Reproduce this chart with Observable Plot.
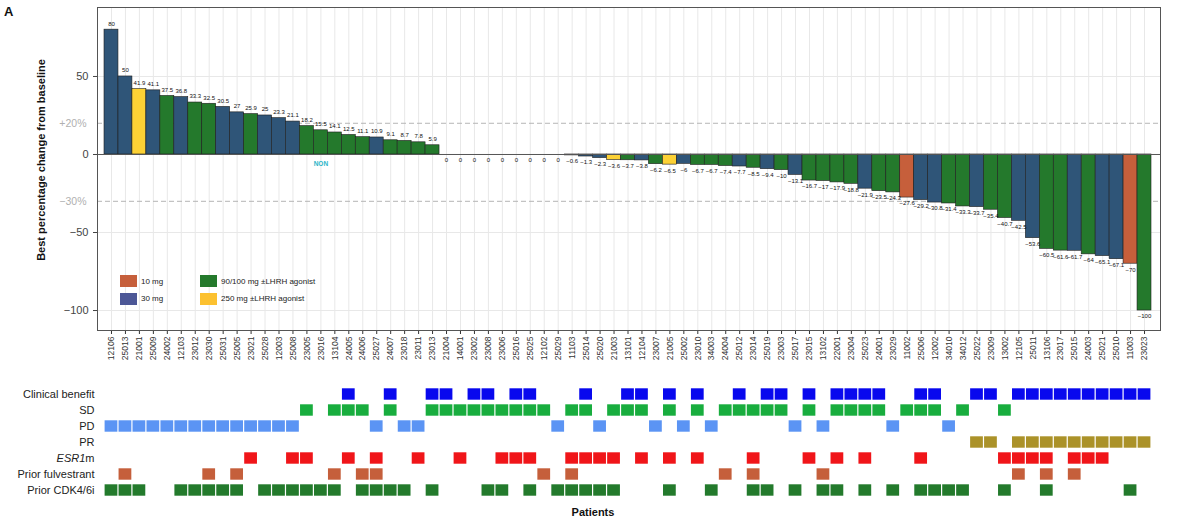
<!DOCTYPE html>
<html>
<head>
<meta charset="utf-8">
<script src="https://cdn.jsdelivr.net/npm/d3@7"></script>
<script src="https://cdn.jsdelivr.net/npm/@observablehq/plot@0.6"></script>
<style>
  body { margin: 0; background: #fff; font-family: "Liberation Sans", Arial, sans-serif; }
  #wrap { position: relative; width: 1177px; height: 523px; overflow: hidden; background: #fff; }
  #topChart, #bottomChart { position: absolute; left: 0; }
  #topChart { top: 0; }
  #bottomChart { top: 375px; }
  #panel { position: absolute; left: 4px; top: 4px; font-weight: bold; font-size: 13px; color: #111; }
  #legend { position: absolute; left: 120px; top: 275px; display: grid; grid-template-columns: 80px 160px; grid-auto-rows: 17.5px; font-size: 8px; color: #222; }
  #legend .item { display: flex; align-items: center; height: 12px; }
  #legend .sw { width: 17px; height: 12px; margin-right: 4px; flex: none; }
</style>
</head>
<body>
<div id="wrap">
  <div id="topChart"></div>
  <div id="bottomChart"></div>
  <div id="panel">A</div>
  <div id="legend"></div>
</div>
<script>
// ---------------- data ----------------
const patients = ["12106","25013","21001","25009","24002","12103","23012","23030","25031","25005",
  "23021","25028","12003","25008","23005","23016","13104","24005","24006","25027",
  "24007","23018","23011","23013","21004","14001","23002","23008","23006","25016",
  "25025","12102","25029","11103","25014","25020","21003","13101","12104","23007",
  "21005","25002","23010","34003","24004","25012","23014","25019","23003","25017",
  "23015","13102","22001","23004","25023","24001","23029","11002","25006","12002",
  "34010","34012","25022","23009","13002","12105","25011","13106","23017","25015",
  "24003","25021","25010","11003","23023"];

const bestChange = [80, 50, 41.9, 41.1, 37.5, 36.8, 33.3, 32.5, 30.5, 27,
  25.9, 25, 23.3, 21.1, 18.2, 15.5, 14.1, 12.5, 11.1, 10.9,
  9.1, 8.7, 7.8, 5.9, 0, 0, 0, 0, 0, 0,
  0, 0, 0, -0.6, -1.3, -2.3, -3.6, -3.7, -3.8, -6.2,
  -6.5, -6, -6.7, -6.7, -7.4, -7.7, -8.5, -9.4, -10, -13.1,
  -16.7, -17, -17.9, -18.8, -21.9, -23.5, -24.3, -27.6, -29.2, -30.8,
  -31.4, -33.3, -33.7, -35.4, -40.7, -42.5, -53.6, -60.5, -61.6, -61.7,
  -64, -65.1, -67.1, -70, -100];

// dose group per patient: 10 = 10 mg, 30 = 30 mg, 90 = 90/100 mg, 250 = 250 mg
const doseCode = [30,30,250,30,90,30,90,90,30,30,
  90,30,30,30,90,90,90,90,90,30,
  90,90,90,90,250,90,90,90,90,30,
  30,30,30,10,30,30,250,90,30,90,
  250,30,90,90,90,30,90,30,90,30,
  90,90,90,90,30,90,90,10,30,30,
  90,90,30,90,90,30,30,90,90,30,
  90,30,30,10,90];

const doseNames = { 10: "10 mg", 30: "30 mg", 90: "90/100 mg \u00b1LHRH agonist", 250: "250 mg \u00b1LHRH agonist" };
const barColors = { 10: "#c65f3b", 30: "#2f5578", 90: "#24792c", 250: "#fcd135" };
const legendColors = { 10: "#c65f3b", 30: "#4c5796", 90: "#24792c", 250: "#fcc130" };
const legendOrder = [10, 90, 30, 250];

const nonEvaluable = ["23016"];
const yTicks = [50, 0, -50, -100];
const refLines = [20, -30];
const refLabels = ["+20%", "\u221230%"];

const rows = ["Clinical benefit", "SD", "PD", "PR", "ESR1m", "Prior fulvestrant", "Prior CDK4/6i"];
const clinicalBenefit = ["24005","24007","23013","21004","23002","23008","25016","25025","25014","13101",
  "12104","21005","23010","25012","25019","23003","23015","22001","23004","25023",
  "24001","25006","12002","25022","23009","12105","25011","13106","23017","25015",
  "24003","25021","25010","11003","23023"];
const stableDisease = ["23005","13104","24005","24006","24007","23013","21004","14001","23002","23008",
  "23006","25016","25025","12102","11103","25014","21003","13101","12104","21005",
  "23010","24004","25012","23014","25019","23003","23015","22001","23004","25023",
  "24001","11002","25006","12002","34012","13002"];
const progressiveDisease = ["12106","25013","21001","25009","24002","12103","23012","23030","25031","25005",
  "23021","25028","12003","25008","25027","23018","23011","25029","25020","23007",
  "25002","34003","25017","13102","23029","34010"];
const partialResponse = ["25022","23009","12105","25011","13106","23017","25015","24003","25021","25010",
  "11003","23023"];
const esr1Mutant = ["23021","25008","23005","24005","25027","23011","14001","23006","25016","25025",
  "11103","25014","25020","21003","12104","21005","23010","23014","23015","22001",
  "25023","25006","13002","12105","25011","13106","25015","24003","25021"];
const priorFulvestrant = ["25013","23030","25005","13104","24006","25027","12102","11103","24004","23014",
  "13102","12105","13106","25015"];
const priorCDK46i = ["12106","25013","21001","12103","23012","23030","25031","25005","25028","12003",
  "25008","23005","23016","13104","24006","25027","24007","23018","23013","23008",
  "23006","25025","25029","11103","25014","25020","21003","21005","34003","23014",
  "25019","25017","13102","22001","25023","23029","25006","12002","34010","34012",
  "13002","13106","11003"];
const rowMembers = [clinicalBenefit, stableDisease, progressiveDisease, partialResponse, esr1Mutant, priorFulvestrant, priorCDK46i];
const rowColors = ["#0808ee", "#18ad3e", "#5b94f4", "#ab9229", "#f01519", "#c55f3b", "#237a2c"];

// ---------------- build ----------------
const fmt = v => (v === 0 ? "0" : String(v).replace("-", "\u2212"));
const bars = patients.map((p, i) => ({ patient: p, value: bestChange[i], dose: doseCode[i], label: fmt(bestChange[i]) }));
const tiles = [];
rows.forEach((r, i) => rowMembers[i].forEach(p => tiles.push({ row: r, patient: p, color: rowColors[i] })));

const FONT = "'Liberation Sans', Arial, sans-serif";
const xScale = { domain: patients, range: [104, 1151], padding: 0 };
const labelStyle = { fontSize: 6, fill: "#111", letterSpacing: "-0.2px" };

const waterfall = Plot.plot({
  width: 1177, height: 375,
  marginLeft: 97, marginRight: 17, marginTop: 7, marginBottom: 45,
  style: { fontFamily: FONT, background: "white", overflow: "visible" },
  x: { ...xScale, axis: null },
  y: { domain: [-112.8, 94.2], axis: null },
  marks: [
    Plot.gridX({ stroke: "#e8e8e8", strokeOpacity: 1 }),
    Plot.gridY({ ticks: [50, -50, -100], stroke: "#e8e8e8", strokeOpacity: 1 }),
    Plot.ruleY(refLines, { stroke: "#b5b5b5", strokeDasharray: "5,3", strokeWidth: 1 }),
    Plot.barY(bars, { x: "patient", y: "value", fill: d => barColors[d.dose], stroke: "#1e1e1e", strokeWidth: 0.6 }),
    Plot.ruleY([0], { stroke: "#555", strokeWidth: 1 }),
    Plot.text(bars.filter(d => d.value > 0), { x: "patient", y: "value", text: "label", dy: -6, ...labelStyle }),
    Plot.text(bars.filter(d => d.value <= 0), { x: "patient", y: "value", text: "label", dy: 6, ...labelStyle }),
    Plot.text(nonEvaluable, { x: d => d, y: () => 0, dy: 9, text: () => "NON", fill: "#2bb5c8", fontSize: 6.5, fontWeight: "bold" }),
    Plot.axisY({ ticks: yTicks, tickSize: 4, tickPadding: 5, fontSize: 11, color: "#444", label: null }),
    Plot.text(refLines, { y: d => d, text: (d, i) => refLabels[i], frameAnchor: "left", dx: -11, textAnchor: "end", fill: "#b0b0b0", fontSize: 10.5 }),
    Plot.text(["Best percentage change from baseline"], { frameAnchor: "left", textAnchor: "middle", dx: -56, dy: -9, rotate: -90, fontWeight: "bold", fontSize: 11, fill: "#111" }),
    Plot.axisX({ tickRotate: -90, tickSize: 4, tickPadding: 2, fontSize: 8.5, color: "#333", label: null }),
    Plot.frame({ stroke: "#555" })
  ]
});
document.getElementById("topChart").appendChild(waterfall);

const tileChart = Plot.plot({
  width: 1177, height: 148,
  marginLeft: 97, marginRight: 17, marginTop: 10, marginBottom: 24,
  style: { fontFamily: FONT, background: "white", overflow: "visible" },
  x: { ...xScale, axis: null },
  y: { domain: rows, padding: 0, axis: null },
  marks: [
    Plot.cell(tiles, { x: "patient", y: "row", fill: d => d.color, insetLeft: 0.6, insetRight: 0.6, insetTop: 2.3, insetBottom: 2.3 }),
    Plot.axisY({ tickSize: 0, tickPadding: 3, fontSize: 11, color: "#222", label: null }),
    Plot.text(["Patients"], { frameAnchor: "bottom", dy: 16, dx: -36, fontWeight: "bold", fontSize: 11, fill: "#111" })
  ]
});
document.getElementById("bottomChart").appendChild(tileChart);

// italic gene name in the row label
tileChart.querySelectorAll("text").forEach(t => {
  if (t.textContent === "ESR1m") {
    t.textContent = "";
    const ns = "http://www.w3.org/2000/svg";
    const a = document.createElementNS(ns, "tspan"); a.setAttribute("font-style", "italic"); a.textContent = "ESR1";
    const b = document.createElementNS(ns, "tspan"); b.textContent = "m";
    t.appendChild(a); t.appendChild(b);
  }
});

// legend
const leg = document.getElementById("legend");
legendOrder.forEach(k => {
  const item = document.createElement("div"); item.className = "item";
  const sw = document.createElement("span"); sw.className = "sw"; sw.style.background = legendColors[k];
  const lab = document.createElement("span"); lab.textContent = doseNames[k];
  item.appendChild(sw); item.appendChild(lab); leg.appendChild(item);
});
</script>
</body>
</html>
